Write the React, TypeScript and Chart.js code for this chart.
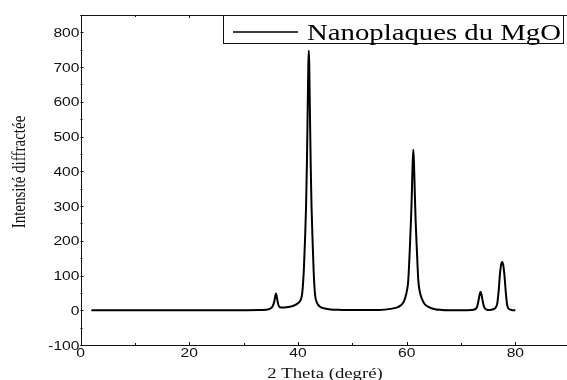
import React, { useEffect, useRef } from "react";
import { Chart, registerables } from "chart.js";

Chart.register(...registerables);

// 2θ (degrees)
const thetaValues: number[] = [
  2, 10, 20, 30, 33, 34, 34.8, 35.3, 35.6, 35.8, 35.95, 36.1, 36.3, 36.5, 36.8, 37.5, 38.5, 39.2,
  40.0, 40.5, 40.8, 41.1, 41.3, 41.5, 41.65, 41.8, 41.92, 42.0, 42.08, 42.2, 42.35, 42.5, 42.7, 42.9,
  43.15, 43.5, 44.0, 45.0, 46.0, 48.0, 50.0, 55.0, 57.0, 58.5, 59.3, 59.7, 60.1, 60.3, 60.6, 60.8,
  60.94, 61.1, 61.23, 61.36, 61.5, 61.65, 61.86, 62.15, 62.4, 62.78, 63.3, 64.0, 65.2, 66.5, 68.0,
  70.0, 72.0, 72.7, 73.0, 73.25, 73.45, 73.6, 73.75, 73.95, 74.2, 74.5, 74.9, 75.3, 75.9, 76.4, 76.7,
  76.95, 77.2, 77.45, 77.6, 77.75, 78.0, 78.25, 78.5, 78.8, 79.3, 80.0,
];

// Intensité diffractée
const intensityValues: number[] = [
  0, 0, 0, 0.3, 0.6, 1.5, 4, 10, 22, 38, 48, 40, 22, 12, 8, 8, 10, 13,
  20, 30, 50, 120, 200, 300, 420, 580, 710, 748, 710, 580, 420, 300, 200, 110,
  45, 22, 11, 5, 2.5, 1, 0.5, 1, 4, 10, 20, 34, 60, 86, 182, 260,
  326, 420, 462, 420, 340, 260, 182, 86, 55, 34, 18, 10, 3, 1, 0.3,
  0, 1, 4, 12, 30, 47, 53, 47, 30, 12, 4, 1, 1, 3, 8, 22,
  60, 110, 136, 139, 132, 100, 50, 15, 4, 1, 0,
];

const seriesLabel = "Nanoplaques du MgO";
const xTitle = "2 Theta (degré)";
const yTitle = "Intensité diffractée";
const xTickLabels: number[] = [0, 20, 40, 60, 80];
const xMinorTicks: number[] = [10, 30, 50, 70, 90];
const yTickLabels: number[] = [-100, 0, 100, 200, 300, 400, 500, 600, 700, 800];
const yMinorTicks: number[] = [-50, 50, 150, 250, 350, 450, 550, 650, 750, 850];

const CANVAS_W = 575;
const CANVAS_H = 380;

const framePlugin = {
  id: "framePlugin",
  afterDraw(chart: any) {
    const ctx: CanvasRenderingContext2D = chart.ctx;
    const { left, right, top, bottom } = chart.chartArea;
    const xs = chart.scales.x;
    const ys = chart.scales.y;
    ctx.save();
    // frame
    ctx.strokeStyle = "#111";
    ctx.lineWidth = 1;
    ctx.beginPath();
    ctx.moveTo(Math.round(left) + 0.5, top);
    ctx.lineTo(Math.round(left) + 0.5, bottom);
    ctx.moveTo(left, Math.round(bottom) + 0.5);
    ctx.lineTo(right, Math.round(bottom) + 0.5);
    ctx.moveTo(left, Math.round(top) + 0.5);
    ctx.lineTo(right, Math.round(top) + 0.5);
    ctx.moveTo(Math.round(right) + 0.5, top);
    ctx.lineTo(Math.round(right) + 0.5, bottom);
    ctx.stroke();

    // ticks (inside)
    ctx.beginPath();
    const xMajorSet = [...xTickLabels, ...xMinorTicks];
    xMajorSet.forEach((v) => {
      const px = Math.round(xs.getPixelForValue(v)) + 0.5;
      const len = xTickLabels.includes(v) ? 3 : 2;
      ctx.moveTo(px, bottom);
      ctx.lineTo(px, bottom - len);
      ctx.moveTo(px, top);
      ctx.lineTo(px, top + len);
    });
    [...yTickLabels, ...yMinorTicks].forEach((v) => {
      const py = Math.round(ys.getPixelForValue(v)) + 0.5;
      const len = yTickLabels.includes(v) ? 3 : 2;
      ctx.moveTo(left, py);
      ctx.lineTo(left + len, py);
    });
    ctx.stroke();

    // tick labels
    ctx.fillStyle = "#111";
    ctx.font = '12.5px "Liberation Sans", Arial, sans-serif';
    ctx.textBaseline = "alphabetic";
    yTickLabels.forEach((v) => {
      const py = ys.getPixelForValue(v);
      ctx.save();
      ctx.translate(left - 1, py + 4.6);
      ctx.scale(1.25, 1);
      ctx.textAlign = "right";
      ctx.fillText(String(v), 0, 0);
      ctx.restore();
    });
    xTickLabels.forEach((v) => {
      const px = xs.getPixelForValue(v);
      ctx.save();
      ctx.translate(px, bottom + 12);
      ctx.scale(1.25, 1);
      ctx.textAlign = "center";
      ctx.fillText(String(v), 0, 0);
      ctx.restore();
    });

    // axis titles
    ctx.font = '15px "Liberation Serif", "Times New Roman", serif';
    ctx.save();
    ctx.translate(325, 378);
    ctx.scale(1.25, 1);
    ctx.textAlign = "center";
    ctx.fillText(xTitle, 0, 0);
    ctx.restore();

    ctx.save();
    ctx.translate(25, 172);
    ctx.rotate(-Math.PI / 2);
    ctx.scale(1, 1.25);
    ctx.textAlign = "center";
    ctx.fillText(yTitle, 0, 0);
    ctx.restore();

    // legend
    const bx = 223.5, by = 15.5, bw = 340, bh = 28;
    ctx.fillStyle = "#fff";
    ctx.fillRect(bx, by, bw, bh);
    ctx.strokeStyle = "#111";
    ctx.lineWidth = 1;
    ctx.strokeRect(bx, by, bw, bh);
    ctx.strokeStyle = "#000";
    ctx.lineWidth = 1.6;
    ctx.beginPath();
    ctx.moveTo(233, 32);
    ctx.lineTo(298, 32);
    ctx.stroke();
    ctx.fillStyle = "#000";
    ctx.font = '23px "Liberation Serif", "Times New Roman", serif';
    ctx.save();
    ctx.translate(307, 39.5);
    ctx.scale(1.25, 1);
    ctx.textAlign = "left";
    ctx.fillText(seriesLabel, 0, 0);
    ctx.restore();

    ctx.restore();
  },
};

export default function App() {
  const canvasRef = useRef<HTMLCanvasElement | null>(null);

  useEffect(() => {
    if (!canvasRef.current) return;
    const points = thetaValues.map((x, i) => ({ x, y: intensityValues[i] }));
    const chart = new Chart(canvasRef.current, {
      type: "line",
      data: {
        datasets: [
          {
            label: seriesLabel,
            data: points,
            borderColor: "#000",
            borderWidth: 2,
            pointRadius: 0,
            fill: false,
            cubicInterpolationMode: "monotone",
          },
        ],
      },
      options: {
        animation: false,
        responsive: false,
        maintainAspectRatio: false,
        layout: {
          padding: { left: 80.5, top: 15, right: CANVAS_W - 569.7, bottom: 35 },
        },
        scales: {
          x: { type: "linear", min: 0, max: 90, display: false },
          y: { type: "linear", min: -100, max: 850, display: false },
        },
        plugins: {
          legend: { display: false },
          tooltip: { enabled: false },
        },
      },
      plugins: [framePlugin],
    } as any);
    return () => chart.destroy();
  }, []);

  return (
    <div
      style={{
        position: "fixed",
        left: 0,
        top: 0,
        width: 567,
        height: 380,
        overflow: "hidden",
        background: "#fff",
      }}
    >
      <canvas
        ref={canvasRef}
        width={CANVAS_W}
        height={CANVAS_H}
        style={{ width: CANVAS_W, height: CANVAS_H, display: "block" }}
      />
    </div>
  );
}
